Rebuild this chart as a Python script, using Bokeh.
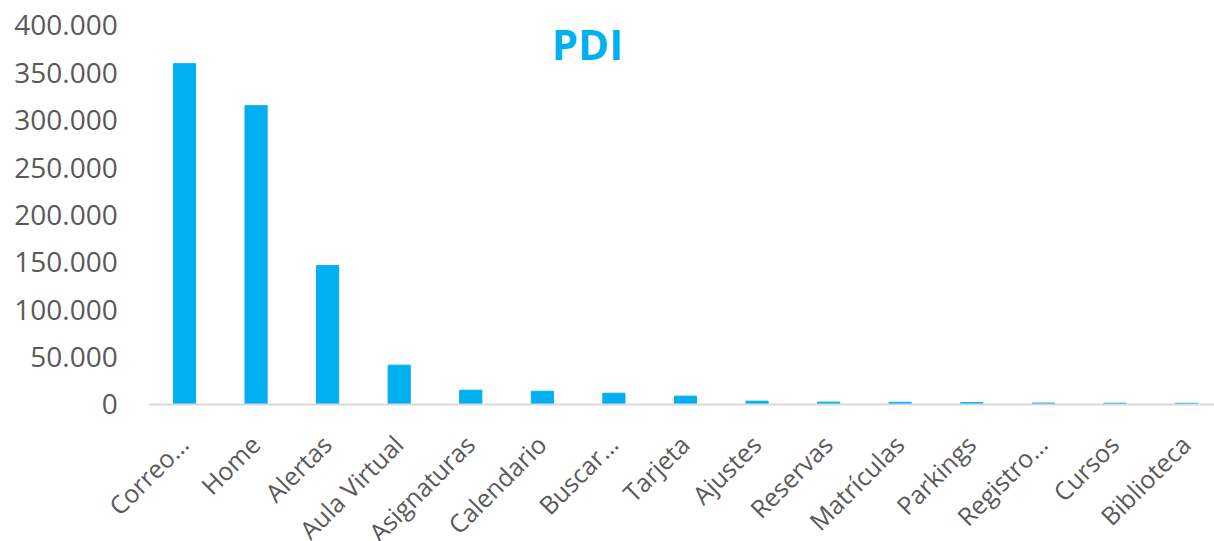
from bokeh.plotting import figure
from bokeh.models import Label, ColumnDataSource, Range1d
from bokeh.core.properties import value
from bokeh.embed import file_html
from bokeh.resources import INLINE
import math

categories = ["Correo…", "Home", "Alertas", "Aula Virtual", "Asignaturas", "Calendario",
              "Buscar…", "Tarjeta", "Ajustes", "Reservas", "Matrículas", "Parkings",
              "Registro…", "Cursos", "Biblioteca"]
values = [359700, 315400, 146600, 41500, 15100, 14000, 11900, 8800, 3500, 2500,
          2300, 2000, 1500, 1400, 1300]
y_ticks = [0, 50000, 100000, 150000, 200000, 250000, 300000, 350000, 400000]
y_tick_labels = ["0", "50.000", "100.000", "150.000", "200.000", "250.000",
                 "300.000", "350.000", "400.000"]
title_text = "PDI"

BLUE = "#00B0F0"
GREY = "#595959"
FONT = "Open Sans"

n = len(categories)
idx = list(range(n))

# The frame covers the whole page: the reference's rotated category labels
# run past the plot area's left edge and are cut at the page bottom.
p = figure(x_range=Range1d(-2.571, 14.392), y_range=Range1d(-144591, 426385),
           width=1214, height=541, output_backend="svg", toolbar_location=None,
           tools="", min_border=0)
p.outline_line_color = None
p.xgrid.grid_line_color = None
p.ygrid.grid_line_color = None
p.xaxis.visible = False
p.yaxis.visible = False

src = ColumnDataSource(dict(i=idx, cat=categories, val=values, zero=[0] * n))
p.vbar(x="i", top="val", width=0.31, color=BLUE, source=src)

# category axis line
p.segment(x0=[-0.5], y0=[0], x1=[n - 0.5], y1=[0], line_color="#D9D9D9", line_width=2)

# category labels
p.text(x="i", y="zero", text="cat", source=src, angle=math.pi / 4,
       x_offset=-1, y_offset=35, text_align="right", text_baseline="middle",
       text_font=value(FONT), text_font_size="25px", text_color=GREY)

# value axis labels
ysrc = ColumnDataSource(dict(x=[-0.5] * len(y_ticks), y=y_ticks, t=y_tick_labels))
p.text(x="x", y="y", text="t", source=ysrc, x_offset=-31, text_align="right",
       text_baseline="middle", text_font=value(FONT), text_font_size="28px",
       text_color=GREY)

title = Label(x=5.63, y=381000, text=title_text,
              text_font=FONT, text_font_size="42px", text_font_style="bold",
              text_color=BLUE, text_align="center", text_baseline="middle")
p.add_layout(title)

open("out.html", "w").write(file_html(p, INLINE))
